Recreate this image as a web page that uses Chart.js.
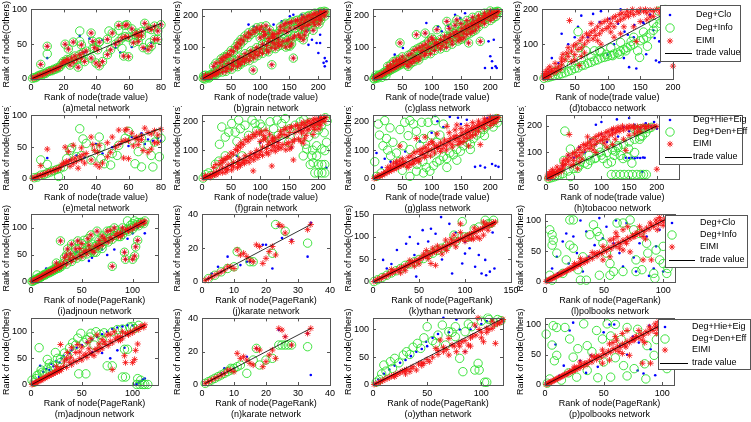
<!DOCTYPE html>
<html>
<head>
<meta charset="utf-8">
<script src="https://cdn.jsdelivr.net/npm/chart.js@4.4.1/dist/chart.umd.min.js"></script>
<style>
html, body { margin: 0; padding: 0; background: #fff; }
#wrap { position: relative; width: 751px; height: 422px; overflow: hidden; }
#wrap canvas { position: absolute; }
</style>
</head>
<body>
<div id="wrap"></div>
<script>
// ---------- data: flat [x,y, x,y, ...] lists ----------

// metal network (a, e)
const metalEimi = [1,1, 2,2, 3,2, 4,4, 5,5, 6,6, 7,6, 8,8, 9,8, 10,10, 11,11, 12,12, 13,12, 14,14, 15,14, 16,16, 17,16, 18,18,
  6,21, 10,47, 19,22, 20,25, 21,24, 22,28, 23,27, 24,20, 25,30, 26,24, 27,33, 28,28, 29,17, 30,35, 31,30, 32,38, 33,25, 34,40,
  21,50, 23,43, 26,53, 31,49, 37,66, 38,54, 42,53, 39,45, 41,42, 47,57, 50,66,
  37,30, 40,23, 42,19, 44,25, 47,35, 49,42, 52,50, 54,54, 56,59, 58,61,
  54,77, 58,77, 59,78, 62,72, 65,66, 66,62, 68,62, 70,80, 72,73, 74,71, 76,76, 78,69, 80,78,
  57,33, 60,32, 63,52, 66,54, 69,45, 72,42, 74,47, 76,57, 78,57, 60,60, 64,64, 68,68];
const metalCloOwn = [10,30, 30,62, 36,58, 52,45, 55,38, 62,46, 70,44, 74,52, 44,56, 33,38];
const metalInfoOwn = [10,36, 30,69, 48,69, 54,70, 30,54, 73,52, 63,57, 38,44, 56,44, 42,53];
const metalHie = [1,1, 3,3, 5,5, 7,7, 9,9, 12,12, 15,15, 18,18, 10,33, 24,30, 28,37, 33,34, 40,55, 44,40, 50,50, 55,55,
  60,52, 62,66, 65,65, 70,55, 72,62, 75,60, 78,64, 80,60, 68,72];
const metalDen = [2,2, 4,3, 6,6, 8,7, 10,9, 12,11, 14,13, 16,15, 18,17, 20,19, 6,30, 10,23, 17,4, 24,45, 25,49, 30,79, 32,63,
  34,56, 31,37, 42,66, 43,50, 45,24, 49,22, 53,37, 54,53, 58,64, 60,75, 62,61, 64,24, 66,43, 68,19, 72,53, 74,37, 76,58,
  75,19, 79,35, 80,64, 78,71, 68,64, 50,40, 43,32, 40,48, 37,30, 28,35, 22,32];
const metalLine = [1,1, 80,80];

// grain network (b, f)
const grainEimi = [2,2, 5,4, 8,6, 10,10, 12,8, 15,14, 18,12, 20,20, 22,16, 25,24, 28,20, 30,30, 6,12, 14,6, 24,14,
  20,40, 24,50, 31,52, 33,64, 36,58, 38,70, 41,68, 44,78, 48,76, 50,90, 54,86, 58,102, 61,98, 62,114, 66,110, 67,125,
  71,120, 74,136, 79,131, 80,146, 84,141, 88,154, 91,148, 94,162, 99,156, 102,165, 106,150, 110,168, 116,155, 121,142,
  35,22, 41,24, 44,33, 51,31, 54,42, 61,39, 63,50, 66,46, 69,56, 73,54, 76,64, 81,58, 84,72, 89,66, 91,79, 96,74,
  99,85, 104,81, 111,92, 114,86, 119,99, 126,96, 131,104, 88,28, 120,45,
  35,38, 41,37, 45,49, 51,47, 54,58, 61,57, 64,69, 71,66, 74,80, 81,77, 84,89, 91,87, 94,99, 101,96, 104,110, 111,106,
  114,119, 121,116, 124,130, 131,126,
  100,130, 106,136, 109,141, 115,128, 121,133, 124,141, 131,144, 134,152, 141,154, 146,149, 151,161,
  125,110, 131,114, 136,107, 139,119, 146,121, 149,126, 156,129, 159,136, 166,139, 144,101, 151,104, 154,111, 174,124, 157,66,
  135,165, 141,171, 144,176, 151,177, 154,181, 161,184, 164,186, 171,189, 174,196, 181,197, 184,201, 191,204, 194,208,
  201,209, 204,213, 210,214, 213,212,
  160,161, 166,169, 169,176, 176,179, 179,186, 186,187, 189,193, 196,194, 199,201, 206,204, 209,209,
  171,159, 174,166, 181,169, 184,173, 191,179, 194,186, 201,189, 204,196, 211,199, 179,151, 176,139, 191,154, 169,131,
  201,174, 204,186, 194,171];
const grainCloOwn = [89,166, 94,156, 106,156, 114,145, 123,172, 137,182, 149,177, 151,198, 157,203, 171,203, 177,193,
  183,156, 189,124, 197,114, 203,114, 203,140, 200,82, 209,51, 211,40, 214,56, 211,66, 183,108, 169,129, 80,172];
const grainInfoOwn = [5,0, 12,3, 3,10, 148,105];
const grainHie = [214,39, 154,109, 20,18, 50,48, 90,88, 130,128, 170,168, 200,198, 210,212, 60,80, 100,125];
const grainDen = [34,180, 46,162, 40,145, 57,162, 66,174, 74,186, 86,204, 91,192, 94,168, 103,180, 109,156, 117,198,
  123,174, 129,204, 137,192, 143,209, 143,156, 131,151, 149,127, 151,174, 160,186, 169,198, 63,204, 51,192, 80,151,
  106,121, 120,139, 183,145, 194,156, 197,115, 206,104, 211,98, 180,104, 174,80, 186,50, 191,56, 200,50, 206,50, 211,50,
  200,21, 206,21, 211,21, 194,21, 189,80, 197,80, 214,127, 29,62, 23,51, 40,80, 6,15, 11,21, 57,68, 69,80, 2,3, 15,12,
  30,120, 60,130, 100,190, 175,205, 185,195, 165,150, 200,170, 210,160, 205,185, 178,120, 190,100, 215,200, 212,212];
const grainLine = [1,1, 214,214];

// glass network (c, g)
const glassEimi = [2,2, 4,5, 6,4, 8,8, 10,12, 12,9, 14,15, 16,13, 18,20, 20,17, 22,25, 24,22, 26,28, 28,26, 30,32, 32,30,
  34,36, 36,34, 38,42, 40,38, 42,45, 44,42, 46,50, 48,46, 50,55, 52,50,
  25,40, 30,45, 35,55, 40,60, 45,62, 50,70,
  55,60, 58,45, 60,75, 62,55, 65,80, 68,62, 70,90, 72,70, 75,95, 78,60, 80,100, 82,85, 85,105, 88,75, 90,110, 92,95,
  95,120, 98,80, 100,100, 102,125, 105,90, 108,115, 110,105, 60,40, 65,50, 70,55, 75,65, 80,70, 85,90, 90,80, 95,100,
  100,130, 105,110,
  46,114, 74,140, 89,145, 109,156, 126,182, 143,187, 166,145, 163,114, 183,119,
  112,112, 115,125, 118,105, 120,120, 122,135, 125,115, 128,130, 130,128, 132,140, 135,120, 138,145, 140,135, 142,150,
  145,140, 148,130, 150,150, 152,160, 155,145, 158,165, 160,155, 162,170, 165,160, 168,175, 170,168, 172,180, 175,172,
  178,185, 180,178, 182,190, 185,182, 188,195, 190,188, 192,200, 195,195, 198,205, 200,200, 202,208, 205,205, 208,212,
  210,210, 212,214, 214,213,
  115,95, 125,100, 135,110, 145,120, 150,125, 155,130, 160,140, 170,150, 175,155, 180,165, 190,175, 200,185, 205,192, 210,198,
  130,160, 140,170, 150,175, 160,185, 170,195, 180,200, 190,208, 200,215];
const glassCloOwn = [91,177, 111,166, 117,151, 140,203, 149,193, 157,208, 171,187, 197,119, 206,124, 200,72, 203,56,
  209,40, 211,35, 203,35, 191,35, 37,77, 51,98, 128,168];
const glassInfoOwn = [2,0, 8,3, 15,5, 22,10, 5,12];
const glassHie = [174,42, 183,46, 191,40, 203,52, 209,46, 214,42, 131,215, 110,200, 100,160, 80,130, 55,95, 30,60, 15,40,
  120,180, 150,190, 160,205, 195,210, 205,218, 40,55, 106,218, 145,212, 6,90, 20,70];
const glassDen = [9,190, 20,202, 11,152, 29,177, 23,140, 17,115, 34,127, 46,171, 54,196, 63,202, 69,190, 74,165, 83,196,
  86,140, 94,196, 100,152, 106,202, 51,115, 63,102, 80,115, 40,90, 109,127, 114,152, 63,9, 74,27, 86,21, 91,40, 97,27,
  103,46, 109,59, 114,65, 120,77, 126,71, 131,90, 137,84, 143,102, 149,96, 154,115, 160,127, 166,121, 171,140, 177,152,
  183,159, 189,171, 194,184, 200,190, 206,202, 211,209, 166,102, 143,65, 126,40, 6,9, 14,21, 3,60, 30,80, 60,150, 120,190,
  25,100, 45,60, 75,50, 100,90, 155,140, 190,150, 205,180, 212,195, 50,30, 85,60];
const glassLine = [1,1, 214,214];

// tobacco network (d, h)
const tobaccoEimi = [2,3, 4,8, 5,2, 7,12, 8,5, 10,15, 12,8, 14,20, 15,25, 18,18, 20,30, 22,22, 25,35, 28,28, 30,40, 3,15,
  6,22, 9,28, 12,35,
  30,60, 32,71, 35,55, 38,75, 40,65, 42,168, 45,80, 48,95, 50,70, 52,100, 55,85, 57,39, 58,110, 60,90, 62,120, 65,100,
  68,130, 70,110, 72,125, 75,159, 75,135, 78,115, 80,140, 82,125, 85,150, 88,130, 90,160, 92,140, 95,165, 98,145,
  100,170, 102,150, 105,160, 108,175, 110,150, 112,180, 115,165, 118,185, 120,170, 122,190, 125,175, 128,185, 130,195,
  132,180, 135,190, 138,200, 140,185, 144,108, 145,195, 148,190, 150,200, 155,195, 158,200, 160,190, 165,198, 170,195,
  175,200, 180,198, 185,200, 190,195, 195,200, 200,37, 200,198,
  110,120, 120,130, 140,150, 160,170, 170,180, 45,50, 60,65, 90,100, 50,55, 40,90, 65,75, 85,110, 105,135, 125,150,
  150,165, 165,178, 180,190, 30,50, 20,45];
const tobaccoClo = [60,182, 78,187, 88,164, 103,173, 116,159, 126,136, 131,127, 141,155, 154,164, 159,71, 133,34, 144,30,
  174,53, 179,48, 172,118, 179,108, 10,20, 25,45, 40,100, 30,130, 55,150, 70,120, 100,70, 110,100, 125,60, 140,120,
  188,110, 170,140, 192,60, 155,160, 165,185, 185,195, 195,178, 120,200, 90,195, 50,120, 15,60, 5,10];
const tobaccoInfo = [3,2, 8,4, 12,6, 16,8, 20,10, 25,12, 30,15, 35,18, 40,22, 42,62, 45,25, 50,30, 55,32, 57,90, 60,38,
  65,40, 67,81, 70,45, 75,48, 80,81, 80,52, 85,55, 88,81, 90,60, 95,62, 98,71, 100,65, 105,68, 108,67, 110,72, 115,75,
  118,71, 120,80, 125,85, 128,81, 130,90, 135,95, 136,108, 140,100, 146,81, 149,62, 150,110, 155,115, 161,94, 160,120,
  165,130, 170,140, 175,150, 180,160, 185,170, 190,180, 195,190, 200,198, 178,195, 188,200, 20,22, 30,30, 45,40, 60,55,
  75,65, 90,78, 105,90, 120,105, 140,120, 155,135, 170,160, 55,136];
const tobaccoHie = [144,80, 150,79, 155,80, 160,78, 165,80, 170,79, 175,81, 178,80, 174,27, 40,90, 60,120, 80,150, 100,170,
  120,185, 140,195, 160,205, 180,210, 195,215, 30,50, 50,80, 70,100, 90,130, 110,140, 130,160, 150,180, 170,190, 190,200,
  15,20, 25,35, 200,190, 100,215, 128,225, 150,230, 90,205];
const tobaccoDen = [32,70, 44,9, 57,40, 62,65, 78,89, 88,77, 98,101, 103,77, 111,58, 118,64, 123,89, 129,126, 134,89,
  139,77, 146,83, 149,114, 118,17, 126,17, 134,17, 141,17, 149,17, 156,17, 164,17, 171,17, 176,17, 181,17, 169,150,
  174,163, 179,190, 34,181, 44,113, 5,2, 10,5, 15,8, 20,12, 25,15, 30,20, 40,30, 50,40, 60,50, 70,60, 80,70, 90,80,
  100,90, 110,100, 120,110, 130,120, 140,130, 150,140, 160,150, 170,160, 180,175, 185,190, 190,195, 95,120, 110,135,
  125,105, 60,95, 75,55, 85,140, 160,100, 155,60, 165,180, 160,188, 170,190, 175,188];
const tobaccoLine = [1,1, 200,200];

// adjnoun network (i, m)
const adjEimi = [1,1, 2,2, 3,3, 4,4, 5,5, 6,5, 7,7, 8,8, 9,9, 10,9, 11,11, 12,12, 13,14, 14,13, 15,15, 16,16, 17,18, 18,17,
  19,20, 20,19, 21,22, 22,21, 23,24, 24,23, 25,27, 26,25, 27,28, 28,26, 29,31, 30,29,
  29,76, 46,76, 59,87, 65,94, 36,61, 39,52, 44,61, 50,71, 54,58, 57,68, 62,55, 67,77, 72,81, 75,94, 82,100, 85,90, 88,84, 65,68,
  80,29, 92,55, 93,42, 100,42, 102,48, 103,65, 105,77, 108,110, 112,113, 102,103, 95,97,
  32,35, 35,33, 38,42, 40,38, 42,45, 45,44, 48,50, 50,47, 52,55, 55,52, 58,60, 60,58, 63,66, 66,63, 68,70, 70,68, 73,76,
  76,74, 78,82, 80,79, 83,86, 86,84, 88,91, 90,88, 93,96, 96,94, 98,100, 100,98, 104,106, 106,104, 109,110, 111,108,
  40,70, 48,62, 56,80, 33,45, 70,85, 78,95, 90,100, 25,35, 35,50];
const adjCloOwn = [26,35, 57,39, 100,90, 112,90, 75,50, 60,45, 82,60, 45,55, 30,32, 90,95, 105,100, 70,60, 95,80, 15,25];
const adjInfoOwn = [6,13, 59,55, 64,55, 95,113, 102,113, 52,77, 45,50, 70,62, 85,95, 98,105, 100,108, 105,110, 60,70];
const adjHie = [9,36, 12,25, 15,30, 18,28, 20,40, 22,35, 25,45, 28,42, 30,50, 32,55, 35,48, 38,60, 40,65, 45,70, 50,75,
  55,80, 60,85, 65,90, 70,95, 75,100, 80,105, 85,108, 90,110, 95,112, 100,112, 104,2, 106,4, 107,6, 109,8, 110,10, 112,12,
  103,1, 60,62, 70,60, 78,50, 85,65, 92,70, 5,8, 3,5, 8,15];
const adjDen = [8,70, 16,48, 24,61, 29,42, 36,55, 41,79, 46,88, 49,97, 55,85, 59,97, 64,100, 47,21, 54,21, 75,36, 80,36,
  92,67, 95,67, 90,15, 93,15, 105,12, 108,9, 112,1, 107,1, 104,1, 110,1, 115,1, 102,106, 97,109, 1,9, 6,18, 11,24, 16,30,
  22,36, 29,48, 3,5, 5,12, 8,20, 10,28, 13,22, 18,40, 20,33, 26,50, 33,60, 38,70, 44,75, 52,80, 58,90, 68,95, 72,98,
  80,100, 85,104, 90,105, 100,110, 106,112, 62,75, 70,85];
const adjLine = [1,1, 112,112];

// karate network (j, n)
const karateEimi = [1,1, 2,2, 3,3, 4,4, 5,5, 6,6, 7,7, 8,9, 9,9, 10,8, 11,19, 12,16, 13,17, 14,15, 15,13, 16,12, 17,22,
  18,21, 19,11, 20,14, 21,18, 22,21, 23,16, 24,34, 25,33, 26,29, 28,24, 33,31, 34,34];
const karateClo = [8,15, 3,5, 5,9, 14,12, 15,12, 19,22, 20,22, 22,8, 25,26, 33,15, 12,10, 24,33, 28,25, 34,35, 2,2, 6,6];
const karateInfo = [11,18, 16,12, 15,12, 22,17, 23,34, 26,30, 33,23, 10,9, 2,2, 4,4, 6,6, 8,8];
const karateHie = [34,6, 7,10, 2,2, 4,4, 6,7, 10,10, 14,17, 24,33, 26,29, 28,24, 33,31, 17,22];
const karateDen = [1,1, 2,2, 3,3, 4,4, 5,5, 6,6, 7,7, 8,8, 9,9, 10,10, 11,11, 12,12, 14,7, 16,15, 18,12, 22,16, 24,24,
  25,24, 26,24, 27,24, 28,24, 33,23, 17,22, 20,15, 9,10];
const karateLine = [1,1, 34,34];

// ythan network, panel k
const ythanKEimi = [1,1, 3,3, 5,6, 7,7, 9,8, 11,12, 13,13, 15,14, 17,18, 19,19, 21,20, 23,24, 25,25, 27,26, 29,30, 31,31,
  33,32, 35,36, 37,37, 39,38, 41,42, 43,43, 45,46, 47,47, 49,48, 51,52, 53,53, 55,56, 57,57, 59,58, 61,62, 63,63, 65,66,
  67,67, 69,68, 71,72, 73,73, 75,76, 77,77, 79,78, 81,82, 83,83, 85,86, 87,87, 89,88, 91,92, 93,93, 95,96, 97,97, 99,98,
  101,102, 103,103, 105,106, 107,107, 109,108, 111,112, 113,113, 115,116, 117,117, 119,118, 121,122, 123,123, 125,126,
  127,127, 129,128, 131,132, 133,133,
  63,41, 68,37, 79,93, 88,104, 95,129, 104,96, 107,96, 109,95, 113,100, 116,96, 120,104, 120,133, 123,129, 30,20, 35,25,
  40,48, 50,40, 55,62, 60,52, 70,80, 75,62, 85,95, 90,78, 95,110, 100,90, 110,120, 125,115, 130,128, 20,28, 45,35, 58,70,
  80,70, 65,75];
const ythanKClo = [11,49, 26,71, 36,85, 40,100, 49,85, 54,115, 63,118, 68,107, 74,144, 83,129, 97,41, 100,63, 111,34,
  118,19, 122,49, 127,23, 132,30, 123,15, 36,34, 47,12, 29,23, 86,19, 100,89, 20,40, 45,60, 15,30, 60,90, 90,110, 105,75,
  75,50, 130,110, 115,60, 10,10, 50,50, 80,80, 120,120];
const ythanKInfo = [1,1, 5,5, 10,10, 15,15, 20,20, 25,25, 30,30, 40,40, 50,50, 60,60, 70,70, 80,80, 88,104, 97,134,
  122,137, 125,129, 131,137, 104,100, 110,118, 115,122, 128,130, 90,90, 100,100, 45,45, 55,52, 65,64, 75,75, 35,37];
const ythanKLine = [1,1, 133,133];

// ythan network, panel o
const ythanOEimi = [1,1, 3,2, 5,4, 7,6, 9,8, 11,10, 13,12, 15,13, 17,16, 19,17, 21,19, 23,20, 25,22, 27,25, 29,26, 31,28,
  34,24, 37,33, 40,27, 42,38, 45,40, 47,39, 50,46, 52,42, 55,50, 58,66, 60,55, 62,81, 65,60, 68,64, 70,84, 70,54, 73,72,
  75,70, 77,60, 79,75, 82,78, 85,80, 88,72, 90,85, 92,88, 94,108, 95,90, 97,121, 100,95, 102,78, 105,102, 107,100,
  110,102, 112,108, 113,75, 115,110, 117,112, 119,115, 120,118, 20,15, 30,20, 35,30, 45,35, 85,60, 90,70, 100,85,
  105,95, 60,62, 65,68, 80,70, 110,115, 98,100];
const ythanOHie = [5,10, 10,20, 15,28, 20,35, 25,40, 30,45, 35,52, 40,60, 45,65, 49,78, 55,85, 60,92, 65,121, 77,118,
  85,60, 90,100, 95,105, 100,110, 105,115, 110,118, 70,95, 80,100, 50,70, 3,3, 8,8];
const ythanODen = [10,36, 16,42, 20,48, 28,54, 31,60, 37,68, 41,75, 44,66, 50,105, 64,108, 70,96, 76,105, 85,96, 91,105,
  106,121, 115,118, 67,72, 76,87, 80,48, 83,24, 94,27, 98,27, 97,39, 103,5, 105,5, 58,75, 3,5, 6,10, 8,20, 12,25, 18,30,
  24,40, 34,55, 47,85, 55,80, 60,90, 73,95, 88,110, 100,115, 112,112, 118,116, 107,118];
const ythanOLine = [1,1, 120,120];

// polbooks network (l, p)
const polEimi = [1,1, 2,2, 3,3, 4,4, 5,5, 6,6, 7,7, 8,8, 9,9, 10,10, 11,11, 12,12, 13,13, 14,14, 15,15, 16,16, 17,17,
  18,18, 19,19, 20,20, 21,22, 22,21, 23,24, 24,23, 25,26, 26,25, 27,28, 28,27, 29,30, 30,29, 31,33, 33,31, 34,36, 36,34,
  38,40, 40,38, 42,45, 44,42, 46,48, 48,46, 50,52, 52,50, 54,56, 56,54, 58,60, 60,58, 62,64, 64,62, 66,68, 68,66, 70,72,
  72,70, 74,76, 76,74, 78,80, 80,78, 82,84, 84,82, 86,88, 88,86, 90,92, 92,90, 94,96, 96,94, 98,100, 100,98, 102,104, 104,102,
  35,36, 49,58, 55,68, 61,74, 66,85, 69,63, 75,74, 77,79, 83,74, 89,96, 94,101, 83,36, 90,36, 66,52, 72,49, 49,36, 55,41,
  44,47, 60,80, 70,90, 80,90, 85,70, 95,85, 100,92, 58,70, 63,55, 40,48, 30,38, 25,30, 97,105, 103,100];
const polClo = [6,22, 11,14, 15,66, 18,79, 27,47, 32,17, 35,82, 37,41, 46,104, 49,71, 58,63, 63,47, 66,25, 69,96, 77,17,
  80,63, 86,74, 92,22, 94,58, 97,85, 100,17, 104,101, 24,74, 10,41, 3,5, 20,30, 42,60, 52,90, 75,40, 88,10, 60,100, 30,100];
const polInfo = [4,85, 6,77, 7,68, 6,60, 10,47, 4,11, 6,3, 21,101, 24,101, 21,60, 24,55, 28,20, 30,3, 35,3, 32,41, 38,77,
  41,93, 44,82, 46,74, 49,63, 52,47, 55,30, 58,17, 61,96, 66,96, 72,101, 75,85, 80,79, 86,63, 87,47, 77,36, 82,20, 77,17,
  94,52, 97,36, 92,14, 93,6, 100,30, 103,14, 104,22, 100,58, 66,17, 55,11, 46,11, 18,36, 15,14];
const polHie = [9,67, 16,32, 21,90, 24,103, 39,49, 50,87, 59,100, 64,65, 79,24, 84,19, 90,59, 94,16, 96,95, 99,54, 89,98,
  30,40, 45,30, 70,50, 75,80, 55,100, 12,15, 35,20, 80,70, 103,30];
const polDen = [1,84, 6,66, 7,98, 10,95, 17,95, 10,49, 4,10, 14,8, 21,76, 24,46, 27,13, 33,101, 36,65, 44,90, 49,76,
  53,101, 56,81, 50,38, 56,13, 67,32, 76,27, 70,95, 79,92, 93,49, 87,65, 86,10, 101,43, 104,27, 36,24, 2,3, 8,40,
  20,20, 28,60, 40,55, 60,45, 65,75, 85,35, 95,75, 100,100, 60,100, 45,12, 70,15];
const polLine = [1,1, 105,105];

// tick values
const xt80 = [0, 20, 40, 60, 80];
const xt200 = [0, 50, 100, 150, 200];
const xt100 = [0, 50, 100];
const xt150 = [0, 50, 100, 150];
const xt40 = [0, 10, 20, 30, 40];
const yt100 = [0, 50, 100];
const yt200 = [0, 100, 200];
const yt150 = [0, 50, 100, 150];
const yt40 = [0, 20, 40];

// series names
const namesA = ['Deg+Clo', 'Deg+Info', 'EIMI', 'trade value'];
const namesB = ['Deg+Hie+Eig', 'Deg+Den+Eff', 'EIMI', 'trade value'];
const TRADE = 'Rank of node(trade value)';
const PAGERANK = 'Rank of node(PageRank)';
const YLAB = 'Rank of node(Others)';

// ---------- build ----------
function xy(a) {
    const out = [];
    for (let i = 0; i < a.length; i += 2) out.push({x: a[i], y: a[i + 1]});
    return out;
}

const panels = [
    {L: 31, T: 9, W: 130, H: 70, xmax: 80, xt: xt80, ymax: 100, yt: yt100, names: namesA, xl: TRADE, sub: '(a)metal network',
        s: [metalEimi.concat(metalCloOwn), metalEimi.concat(metalInfoOwn), metalEimi, metalLine]},
    {L: 202, T: 9, W: 128, H: 70, xmax: 220, xt: xt200, ymax: 220, yt: yt200, names: namesA, xl: TRADE, sub: '(b)grain network',
        s: [grainEimi.concat(grainCloOwn), grainEimi.concat(grainInfoOwn), grainEimi, grainLine]},
    {L: 373, T: 9, W: 129, H: 70, xmax: 220, xt: xt200, ymax: 220, yt: yt200, names: namesA, xl: TRADE, sub: '(c)glass network',
        s: [glassEimi.concat(glassCloOwn), glassEimi.concat(glassInfoOwn), glassEimi, glassLine]},
    {L: 542, T: 9, W: 131, H: 70, xmax: 200, xt: xt200, ymax: 200, yt: yt200, names: namesA, xl: TRADE, sub: '(d)tobacco network',
        s: [tobaccoClo, tobaccoInfo, tobaccoEimi, tobaccoLine],
        legend: {box: [660, 5, 80, 56], rows: [15, 28, 41, 53], mx: 670, lx: [665, 692], tx: 696}},

    {L: 31, T: 115, W: 130, H: 64, xmax: 80, xt: xt80, ymax: 100, yt: yt100, names: namesB, xl: TRADE, sub: '(e)metal network',
        s: [metalHie, metalDen, metalEimi, metalLine]},
    {L: 202, T: 115, W: 128, H: 64, xmax: 220, xt: xt200, ymax: 220, yt: yt200, names: namesB, xl: TRADE, sub: '(f)grain network',
        s: [grainHie, grainDen, grainEimi, grainLine]},
    {L: 373, T: 115, W: 129, H: 64, xmax: 220, xt: xt200, ymax: 220, yt: yt200, names: namesB, xl: TRADE, sub: '(g)glass network',
        s: [glassHie, glassDen, glassEimi, glassLine]},
    {L: 546, T: 115, W: 133, H: 64, xmax: 240, xt: xt200, ymax: 240, yt: yt200, names: namesB, xl: TRADE, sub: '(h)tobacoo network',
        s: [tobaccoHie, tobaccoDen, tobaccoEimi, tobaccoLine],
        legend: {box: [659, 115, 83, 49], rows: [120, 132, 144, 157], mx: 670, lx: [665, 692], tx: 693}},

    {L: 31, T: 214, W: 127, H: 68, xmax: 125, xt: xt100, ymax: 125, yt: yt100, names: namesA, xl: PAGERANK, sub: '(i)adjnoun network',
        s: [adjEimi.concat(adjCloOwn), adjEimi.concat(adjInfoOwn), adjEimi, adjLine]},
    {L: 202, T: 214, W: 128, H: 68, xmax: 40, xt: xt40, ymax: 40, yt: yt40, names: namesA, xl: PAGERANK, sub: '(j)karate network',
        s: [karateClo, karateInfo, karateEimi, karateLine]},
    {L: 373, T: 214, W: 138, H: 68, xmax: 150, xt: xt150, ymax: 150, yt: yt150, names: namesA, xl: PAGERANK, sub: '(k)ythan network',
        s: [ythanKClo, ythanKInfo, ythanKEimi, ythanKLine]},
    {L: 545, T: 214, W: 130, H: 68, xmax: 110, xt: xt100, ymax: 110, yt: yt100, names: namesA, xl: PAGERANK, sub: '(l)polbooks network',
        s: [polClo, polInfo, polEimi, polLine],
        legend: {box: [665, 215, 82, 52], rows: [223, 235, 247, 260], mx: 672, lx: [669, 695], tx: 700}},

    {L: 31, T: 318, W: 127, H: 67, xmax: 125, xt: xt100, ymax: 125, yt: yt100, names: namesB, xl: PAGERANK, sub: '(m)adjnoun network',
        s: [adjHie, adjDen, adjEimi, adjLine]},
    {L: 202, T: 318, W: 128, H: 67, xmax: 40, xt: xt40, ymax: 40, yt: yt40, names: namesB, xl: PAGERANK, sub: '(n)karate network',
        s: [karateHie, karateDen, karateEimi, karateLine]},
    {L: 373, T: 318, W: 130, H: 67, xmax: 120, xt: xt100, ymax: 120, yt: yt100, names: namesB, xl: PAGERANK, sub: '(o)ythan network',
        s: [ythanOHie, ythanODen, ythanOEimi, ythanOLine]},
    {L: 545, T: 318, W: 129, H: 67, xmax: 110, xt: xt100, ymax: 110, yt: yt100, names: namesB, xl: PAGERANK, sub: '(p)polbooks network',
        s: [polHie, polDen, polEimi, polLine],
        legend: {box: [658, 319, 92, 50], rows: [327, 339, 350, 363], mx: 665, lx: [660, 688], tx: 692}}
];

const FONT = '"Liberation Sans", Arial, sans-serif';
Chart.defaults.font.family = FONT;
Chart.defaults.font.size = 9;
Chart.defaults.color = '#000';

const AXIS_W = 31, PAD_T = 9, AXIS_H = 38;
const FRAME = '#555';

// box frame, inward ticks and the boxed legend
const matlabAxes = {
    id: 'matlabAxes',
    afterDraw(chart, args, opts) {
        const ctx = chart.ctx;
        const a = chart.chartArea;
        const xs = chart.scales.x, ys = chart.scales.y;
        ctx.save();
        ctx.strokeStyle = FRAME;
        ctx.lineWidth = 1;
        ctx.strokeRect(Math.round(a.left) + 0.5, Math.round(a.top) + 0.5,
            Math.round(a.right - a.left), Math.round(a.bottom - a.top));
        ctx.beginPath();
        xs.ticks.forEach(t => {
            const px = Math.round(xs.getPixelForValue(t.value)) + 0.5;
            ctx.moveTo(px, a.bottom); ctx.lineTo(px, a.bottom - 3);
            ctx.moveTo(px, a.top); ctx.lineTo(px, a.top + 3);
        });
        ys.ticks.forEach(t => {
            const py = Math.round(ys.getPixelForValue(t.value)) + 0.5;
            ctx.moveTo(a.left, py); ctx.lineTo(a.left + 3, py);
            ctx.moveTo(a.right, py); ctx.lineTo(a.right - 3, py);
        });
        ctx.stroke();

        const lg = opts.legend;
        if (lg) {
            const ox = opts.ox, oy = opts.oy;
            const [bx, by, bw, bh] = lg.box;
            ctx.fillStyle = '#fff';
            ctx.fillRect(bx - ox, by - oy, bw, bh);
            ctx.strokeStyle = FRAME;
            ctx.strokeRect(bx - ox + 0.5, by - oy + 0.5, bw, bh);
            ctx.font = '9px ' + FONT;
            ctx.textBaseline = 'middle';
            chart.data.datasets.forEach((ds, i) => {
                const y = lg.rows[i] - oy;
                if (ds.showLine) {
                    ctx.strokeStyle = ds.borderColor;
                    ctx.lineWidth = 1;
                    ctx.beginPath();
                    ctx.moveTo(lg.lx[0] - ox, y + 0.5);
                    ctx.lineTo(lg.lx[1] - ox, y + 0.5);
                    ctx.stroke();
                } else {
                    ctx.fillStyle = ds.pointBackgroundColor;
                    ctx.strokeStyle = ds.pointBorderColor;
                    ctx.lineWidth = ds.pointBorderWidth;
                    Chart.helpers.drawPoint(ctx, {
                        pointStyle: ds.pointStyle, radius: ds.pointRadius,
                        rotation: 0, borderWidth: ds.pointBorderWidth
                    }, lg.mx - ox, y);
                }
                ctx.fillStyle = '#000';
                ctx.fillText(ds.label, lg.tx - ox, y);
            });
        }
        ctx.restore();
    }
};

const wrap = document.getElementById('wrap');

panels.forEach(p => {
    const left = p.L - AXIS_W, top = p.T - PAD_T;
    const w = p.legend ? 751 - left : p.W + AXIS_W + 12;
    const h = p.H + PAD_T + AXIS_H;
    const cv = document.createElement('canvas');
    cv.width = w;
    cv.height = h;
    cv.style.left = left + 'px';
    cv.style.top = top + 'px';
    wrap.appendChild(cv);

    const [s1, s2, s3, line] = p.s;
    new Chart(cv, {
        type: 'scatter',
        data: {
            datasets: [
                {
                    label: p.names[0], data: xy(s1), order: 3, clip: 4,
                    pointStyle: 'circle', pointRadius: 1.3, pointBorderWidth: 0,
                    pointBackgroundColor: '#0000ff', pointBorderColor: '#0000ff'
                },
                {
                    label: p.names[1], data: xy(s2), order: 2, clip: 5,
                    pointStyle: 'circle', pointRadius: 4.2, pointBorderWidth: 0.9,
                    pointBackgroundColor: 'rgba(0,0,0,0)', pointBorderColor: '#2ee02e'
                },
                {
                    label: p.names[2], data: xy(s3), order: 1, clip: 4,
                    pointStyle: 'star', pointRadius: 3.1, pointBorderWidth: 0.85,
                    pointBackgroundColor: 'rgba(0,0,0,0)', pointBorderColor: '#f41010'
                },
                {
                    label: p.names[3], data: xy(line), order: 0, showLine: true,
                    borderColor: '#000', borderWidth: 0.8, pointRadius: 0
                }
            ]
        },
        options: {
            responsive: false,
            animation: false,
            devicePixelRatio: 1,
            events: [],
            layout: {padding: {top: PAD_T, right: w - AXIS_W - p.W, left: 0, bottom: 0}},
            plugins: {
                legend: {display: false},
                tooltip: {enabled: false},
                matlabAxes: {legend: p.legend, ox: left, oy: top}
            },
            scales: {
                x: {
                    type: 'linear', min: 0, max: p.xmax,
                    afterBuildTicks: s => { s.ticks = p.xt.map(v => ({value: v})); },
                    afterFit: s => { s.height = AXIS_H; },
                    grid: {display: false, drawTicks: false},
                    border: {display: false},
                    ticks: {padding: 3, maxRotation: 0, autoSkip: false, color: '#000'},
                    title: {display: true, text: [p.xl, p.sub], color: '#000',
                        font: {size: 9, lineHeight: 1.22}, padding: {top: 0, bottom: 3}}
                },
                y: {
                    type: 'linear', min: 0, max: p.ymax,
                    afterBuildTicks: s => { s.ticks = p.yt.map(v => ({value: v})); },
                    afterFit: s => { s.width = AXIS_W; },
                    grid: {display: false, drawTicks: false},
                    border: {display: false},
                    ticks: {padding: 4, autoSkip: false, color: '#000'},
                    title: {display: true, text: YLAB, color: '#000',
                        font: {size: 9, lineHeight: 1.22}, padding: {top: 1, bottom: 0}}
                }
            }
        },
        plugins: [matlabAxes]
    });
});
</script>
</body>
</html>
